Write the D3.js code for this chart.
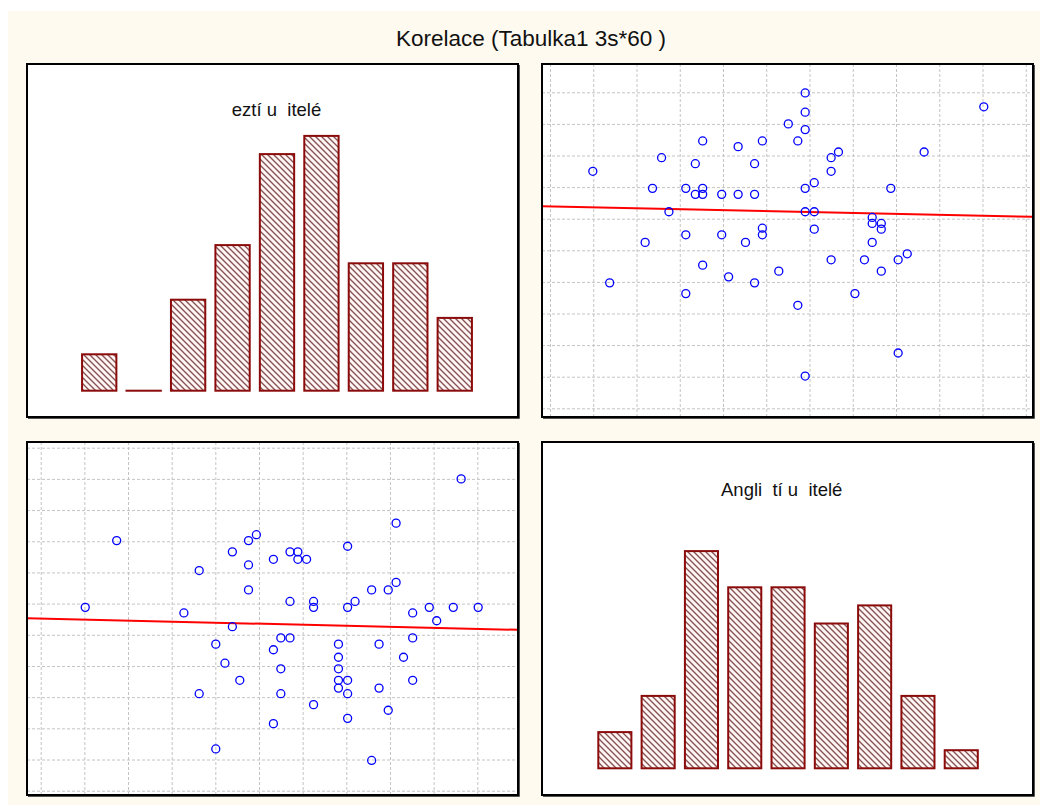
<!DOCTYPE html>
<html>
<head>
<meta charset="utf-8">
<script src="https://cdn.jsdelivr.net/npm/d3@7"></script>
<style>
  body { margin: 0; background: #ffffff; }
  text { font-family: Arial, "Liberation Sans", sans-serif; white-space: pre; }
</style>
</head>
<body>
<script>
// --- data ---
const chartTitle = "Korelace (Tabulka1 3s*60 )";
const histTitles = ["eztí u  itelé", "Angli  tí u  itelé"];
const bins = [1, 2, 3, 4, 5, 6, 7, 8, 9];
const cestinaCounts    = [2, 0, 5, 8, 13, 14, 7, 7, 4];
const anglictinaCounts = [2, 4, 12, 10, 10, 8, 9, 4, 1];

// top right: x = Anglictina, y = Cestina (grid units)
const trX = [5.90, 10.03, 5.90, 5.51, 5.90, 3.53, 4.91, 5.73, 4.35, 2.58,
             6.50, 6.67, 8.65, 3.36, 4.73, 0.99, 6.50, 6.11, 2.37, 3.14,
             3.53, 5.90, 7.88, 3.36, 3.53, 3.97, 4.35, 4.73, 2.75, 5.90,
             6.11, 7.45, 7.45, 7.66, 7.66, 4.91, 4.91, 6.11, 3.14, 3.97,
             2.20, 4.52, 7.45, 8.26, 6.50, 7.27, 8.05, 3.53, 5.29, 7.66,
             4.13, 1.38, 4.73, 3.14, 7.05, 5.73, 8.05, 5.90];
const trY = [9.98, 9.54, 9.37, 9.00, 8.82, 8.46, 8.46, 8.46, 8.28, 7.93,
             7.93, 8.11, 8.11, 7.74, 7.74, 7.50, 7.50, 7.14, 6.96, 6.96,
             6.96, 6.96, 6.96, 6.77, 6.77, 6.77, 6.77, 6.77, 6.22, 6.22,
             6.22, 6.04, 5.85, 5.85, 5.67, 5.70, 5.49, 5.67, 5.49, 5.49,
             5.25, 5.25, 5.25, 4.89, 4.70, 4.70, 4.70, 4.53, 4.34, 4.34,
             4.16, 3.97, 3.97, 3.63, 3.63, 3.26, 1.75, 1.02];
const trFit = [6.385, -0.029]; // intercept, slope

// bottom left: x = Cestina, y = Anglictina (grid units)
const blX = [9.63, 8.14, 1.74, 4.94, 4.76, 7.03, 4.39, 5.71, 5.89, 5.33,
             5.89, 6.09, 4.76, 3.63, 8.14, 4.76, 7.58, 7.96, 5.71, 6.25,
             7.20, 1.02, 6.25, 7.03, 8.90, 9.45, 10.02, 3.28, 8.52, 9.07,
             4.39, 5.50, 5.71, 8.52, 4.01, 6.82, 7.75, 5.33, 6.82, 8.31,
             4.22, 5.50, 6.82, 4.56, 6.82, 7.03, 8.52, 6.82, 7.75, 3.63,
             5.50, 7.03, 6.25, 7.96, 7.03, 5.33, 4.01, 7.58];
const blY = [10.00, 8.58, 8.02, 8.21, 8.02, 7.84, 7.66, 7.66, 7.66, 7.42,
             7.42, 7.42, 7.24, 7.06, 6.68, 6.44, 6.44, 6.44, 6.07, 6.07,
             6.07, 5.88, 5.88, 5.88, 5.88, 5.88, 5.88, 5.70, 5.70, 5.45,
             5.26, 4.90, 4.90, 4.90, 4.70, 4.70, 4.70, 4.52, 4.28, 4.28,
             4.09, 3.91, 3.91, 3.54, 3.54, 3.54, 3.54, 3.29, 3.29, 3.11,
             3.11, 3.11, 2.76, 2.58, 2.32, 2.15, 1.34, 0.97];
const blFit = [5.52, -0.033];

// --- layout ---
const W = 1045, H = 805;
const panelW = 491, panelH = 353;

const svg = d3.select("body").append("svg").attr("width", W).attr("height", H);

svg.append("rect").attr("x", 8).attr("y", 11).attr("width", 1032).attr("height", H - 11)
  .attr("fill", "#fffaef");

const defs = svg.append("defs");
const hatch = defs.append("pattern").attr("id", "hatch")
  .attr("patternUnits", "userSpaceOnUse").attr("width", 6).attr("height", 6);
hatch.append("rect").attr("width", 6).attr("height", 6).attr("fill", "#fff5f5");
hatch.append("path")
  .attr("d", "M0,0 L6,6 M-3,3 L3,9 M3,-3 L9,3")
  .attr("stroke", "#855252").attr("stroke-width", 1.35);

svg.append("text")
  .attr("x", 531).attr("y", 46)
  .attr("text-anchor", "middle")
  .attr("font-size", 22.5).attr("fill", "#111")
  .text(chartTitle);

function makePanel(x, y, id) {
  const g = svg.append("g").attr("transform", `translate(${x},${y})`);
  g.append("rect").attr("width", panelW).attr("height", panelH).attr("fill", "#fff");
  defs.append("clipPath").attr("id", id)
    .append("rect").attr("width", panelW).attr("height", panelH);
  return g;
}

function border(g) {
  g.append("rect").attr("width", panelW).attr("height", panelH)
    .attr("fill", "none").attr("stroke", "#000").attr("stroke-width", 2);
  // slightly heavier right/bottom edge
  g.append("path").attr("d", `M${panelW + 1.5},1 V${panelH + 1.5} H1`)
    .attr("fill", "none").attr("stroke", "#555").attr("stroke-width", 1);
}

function drawHistogram(g, counts, title, o) {
  const x = d3.scaleBand(bins, o.range).paddingInner(o.pad).paddingOuter(o.pad / 2);
  const y = d3.scaleLinear([0, 14], [o.base, o.base - 14 * o.unit]);

  g.append("text")
    .attr("x", o.titleX).attr("y", o.titleY)
    .attr("text-anchor", "middle").attr("font-size", 18.5).attr("fill", "#111")
    .text(title);

  g.selectAll("rect.bar")
    .data(bins.map((b, i) => [b, counts[i]]))
    .join("rect")
    .classed("bar", true)
    .attr("x", d => x(d[0]) + 1)
    .attr("y", d => y(d[1]))
    .attr("width", x.bandwidth() - 2)
    .attr("height", d => Math.max(y(0) - y(d[1]), 0.01))
    .attr("fill", "url(#hatch)")
    .attr("stroke", "#8b0a0a").attr("stroke-width", 2);
  border(g);
}

function drawScatter(g, xs, ys, fit, o, clipId) {
  const x = d3.scaleLinear([0, o.xMax], o.xRange);
  const y = d3.scaleLinear([0, o.yMax], o.yRange);

  const grid = g.append("g").attr("stroke", "#c4c4c4").attr("stroke-width", 1)
    .attr("stroke-dasharray", "3,2");
  grid.selectAll("line.v").data(d3.range(0, o.xMax + 1)).join("line")
    .attr("x1", d => x(d) + 0.5).attr("x2", d => x(d) + 0.5)
    .attr("y1", 0).attr("y2", panelH);
  grid.selectAll("line.h").data(d3.range(0, o.yMax + 1)).join("line")
    .attr("y1", d => y(d) + 0.5).attr("y2", d => y(d) + 0.5)
    .attr("x1", 0).attr("x2", panelW);

  const x0 = x.invert(0), x1 = x.invert(panelW);
  g.append("line")
    .attr("clip-path", `url(#${clipId})`)
    .attr("x1", x(x0)).attr("y1", y(fit[0] + fit[1] * x0))
    .attr("x2", x(x1)).attr("y2", y(fit[0] + fit[1] * x1))
    .attr("stroke", "#ff0000").attr("stroke-width", 2);

  g.selectAll("circle")
    .data(xs.map((v, i) => [v, ys[i]]))
    .join("circle")
    .attr("cx", d => x(d[0])).attr("cy", d => y(d[1]))
    .attr("r", 4)
    .attr("fill", "none").attr("stroke", "#0000ff").attr("stroke-width", 1.3);
  border(g);
}

// top left: histogram Cestina
const tl = makePanel(27, 64, "clipTL");
drawHistogram(tl, cestinaCounts, histTitles[0],
  { range: [50, 450], pad: 0.183, base: 326.7, unit: 18.2, titleX: 249.5, titleY: 52 });

// top right: scatter
const tr = makePanel(542, 64, "clipTR");
drawScatter(tr, trX, trY, trFit,
  { xMax: 11, xRange: [8, 483.75], yMax: 10, yRange: [344.3, 28.3] }, "clipTR");

// bottom left: scatter
const bl = makePanel(27, 442, "clipBL");
drawScatter(bl, blX, blY, blFit,
  { xMax: 10, xRange: [13.7, 450.3], yMax: 11, yRange: [348.7, 5.7] }, "clipBL");

// bottom right: histogram Anglictina
const br = makePanel(542, 442, "clipBR");
drawHistogram(br, anglictinaCounts, histTitles[1],
  { range: [51.2, 440.9], pad: 0.19, base: 326.3, unit: 18.1, titleX: 239.7, titleY: 53.7 });
</script>
</body>
</html>
